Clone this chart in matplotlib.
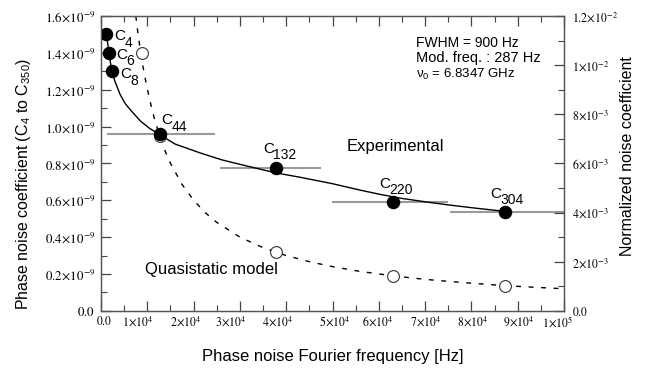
import numpy as np
import matplotlib
matplotlib.use("Agg")
from matplotlib import pyplot as plt
from matplotlib.ticker import FuncFormatter, MultipleLocator
from matplotlib.transforms import ScaledTranslation

# fonts: sans text, Times-like tick numbers
plt.rcParams['font.family'] = ['Liberation Sans', 'DejaVu Sans']
plt.rcParams['mathtext.fontset'] = 'stix'
plt.rcParams['mathtext.rm'] = 'Liberation Sans'
plt.rcParams['mathtext.it'] = 'Liberation Sans'
plt.rcParams['mathtext.bf'] = 'Liberation Sans'

# experimental coefficients (harmonics of the 287 Hz modulation)
harm_names = ["4", "6", "8", "44", "132", "220", "304"]
harm_freq = [1148, 1722, 2296, 12628, 37884, 63140, 87248]
harm_coef = [1.50e-9, 1.40e-9, 1.30e-9, 0.957e-9, 0.777e-9, 0.593e-9, 0.539e-9]

# horizontal bars (frequency bins)
bar_names = ["44", "132", "220", "304"]
bar_lo = [1200, 25700, 49800, 75400]
bar_hi = [24600, 47600, 74900, 100000]

# solid fit curve
fit_freq = [1148, 1722, 2296, 3000, 4100, 5200, 6600, 8500, 10500, 12628,
            16000, 21400, 26000, 30000, 37884, 43000, 50000, 56000, 60300,
            65000, 70000, 75000, 81000, 87248]
fit_coef = [1.50e-9, 1.40e-9, 1.30e-9, 1.245e-9, 1.175e-9, 1.125e-9, 1.083e-9,
            1.03e-9, 0.99e-9, 0.957e-9, 0.905e-9, 0.857e-9, 0.82e-9, 0.795e-9,
            0.748e-9, 0.725e-9, 0.69e-9, 0.655e-9, 0.632e-9, 0.61e-9,
            0.592e-9, 0.575e-9, 0.557e-9, 0.54e-9]

# quasistatic model: dashed curve and open circles
model_freq = [7500, 8000, 8800, 9500, 10500, 11500, 12628, 14000, 15000, 17500,
              20000, 22500, 25000, 30000, 35000, 40000, 45000, 50000, 56000,
              63140, 70000, 78000, 87248, 93000, 100000]
model_coef = [1.60e-9, 1.50e-9, 1.36e-9, 1.265e-9, 1.145e-9, 1.045e-9, 0.95e-9,
              0.857e-9, 0.80e-9, 0.686e-9, 0.60e-9, 0.533e-9, 0.48e-9, 0.40e-9,
              0.343e-9, 0.30e-9, 0.267e-9, 0.24e-9, 0.214e-9, 0.19e-9,
              0.171e-9, 0.154e-9, 0.137e-9, 0.129e-9, 0.12e-9]
circ_freq = [8800, 12628, 37884, 63140, 87248]
circ_coef = [1.40e-9, 0.95e-9, 0.32e-9, 0.19e-9, 0.135e-9]

# label offsets in pixels: right, down (text placement only)
label_offsets = {"4": (8, 2), "6": (7, 2), "8": (9, 3), "44": (2, -14),
                 "132": (-13, -19), "220": (-14, -18), "304": (-15, -18)}
# x tick label nudges in pixels (the original labels are not centred)
xtick_shift = [3, -9, -8, -9, -8, 2, -1, 1, 1, 1, -6]

fig = plt.figure(figsize=(6.52, 3.71), dpi=100)
ax = fig.add_axes([0.155, 0.162, 0.71, 0.795])
ax2 = ax.twinx()

# bins
for name, lo, hi in zip(bar_names, bar_lo, bar_hi):
    i = harm_names.index(name)
    ax.plot([lo, hi], [harm_coef[i], harm_coef[i]],
            color='#9a9a9a', lw=1.5, zorder=2, solid_capstyle='butt')

ax.plot(model_freq, model_coef, color='black', lw=1.0, ls=(0, (3.5, 5.5)), zorder=3)
ax.plot(fit_freq, fit_coef, color='black', lw=1.0, zorder=3)
ax.plot(circ_freq, circ_coef, 'o', ms=8.5, mfc='white', mec='#333333', mew=0.8, zorder=4)
ax.plot(harm_freq, harm_coef, 'o', ms=8.7, color='black', zorder=5)

for name, f, c in zip(harm_names, harm_freq, harm_coef):
    dx, dy = label_offsets[name]
    ax.annotate("C", (f, c), xytext=(dx, -dy), textcoords='offset pixels',
                ha='left', va='center', fontsize=11, zorder=6)
    ax.annotate(name, (f, c), xytext=(dx + 10, -dy - 6.5), textcoords='offset pixels',
                ha='left', va='center', fontsize=10, zorder=6)

# limits and ticks
ax.set_xlim(0, 1e5)
ax.set_ylim(0, 1.6e-9)
ax2.set_ylim(0, 1.2e-2)

ax.xaxis.set_major_locator(MultipleLocator(1e4))
ax.xaxis.set_minor_locator(MultipleLocator(5e3))
ax.yaxis.set_major_locator(MultipleLocator(0.2e-9))
ax.yaxis.set_minor_locator(MultipleLocator(0.1e-9))
ax2.yaxis.set_major_locator(MultipleLocator(2e-3))
ax2.yaxis.set_minor_locator(MultipleLocator(1e-3))

def sci(v):
    e = int(np.floor(np.log10(v) + 1e-9))
    m = v / 10**e
    if abs(m - round(m)) < 1e-6:
        return r"$%d\!\times\!10^{%d}$" % (round(m), e)
    return r"$%.1f\!\times\!10^{%d}$" % (m, e)

def xfmt(v, pos):
    if v < 1:
        return "$0.0$"
    return sci(v)

def yfmt(v, pos):
    if v < 1e-13:
        return "$0.0$"
    return r"$%.1f\!\times\!10^{-9}$" % (v * 1e9)

def y2fmt(v, pos):
    if v < 1e-6:
        return "$0.0$"
    return sci(v)

ax.xaxis.set_major_formatter(FuncFormatter(xfmt))
ax.yaxis.set_major_formatter(FuncFormatter(yfmt))
ax2.yaxis.set_major_formatter(FuncFormatter(y2fmt))

ax.tick_params(which='both', direction='in', top=True, right=False, color='#444444')
ax.tick_params(which='major', length=7.5, width=0.9)
ax.tick_params(which='minor', length=4, width=0.8)
ax.tick_params(axis='y', pad=4.5, labelsize=9.3)
ax.tick_params(axis='x', pad=3, labelsize=8.5)
ax2.tick_params(which='both', direction='in', labelsize=8.5, color='#444444', pad=5.5)
ax2.tick_params(which='major', length=7.5, width=0.9)
ax2.tick_params(which='minor', length=4, width=0.8)

for a in (ax, ax2):
    for sp in a.spines.values():
        sp.set_color('#555555')
        sp.set_linewidth(0.9)

ax.set_xlabel("Phase noise Fourier frequency [Hz]", fontsize=12, labelpad=14)
ax.set_ylabel("Phase noise coefficient (C$_4$ to C$_{350}$)", fontsize=11.5,
              math_fontfamily='custom')
ax.yaxis.set_label_coords(-0.147, 0.43)
ax2.set_ylabel("Normalized noise coefficient", fontsize=11.5)
ax2.yaxis.set_label_coords(1.121, 0.525)

# annotations
ax.text(0.68, 0.909, "FWHM = 900 Hz", transform=ax.transAxes, fontsize=10, va='center')
ax.text(0.68, 0.859, "Mod. freq. : 287 Hz", transform=ax.transAxes, fontsize=10.5, va='center')
ax.text(0.68, 0.803, "ν$_0$ = 6.8347 GHz", transform=ax.transAxes, fontsize=9.5,
        va='center', math_fontfamily='custom')
ax.text(0.531, 0.559, "Experimental", transform=ax.transAxes, fontsize=12, va='center')
ax.text(0.095, 0.141, "Quasistatic model", transform=ax.transAxes, fontsize=12, va='center')

# nudge x tick labels to where the original puts them
fig.canvas.draw()
for tick in ax.xaxis.get_major_ticks():
    k = int(round(tick.get_loc() / 1e4))
    if 0 <= k < len(xtick_shift):
        lab = tick.label1
        lab.set_transform(lab.get_transform() +
                          ScaledTranslation(xtick_shift[k] / 100.0, 0, fig.dpi_scale_trans))

fig.savefig("out.png", dpi=100)
